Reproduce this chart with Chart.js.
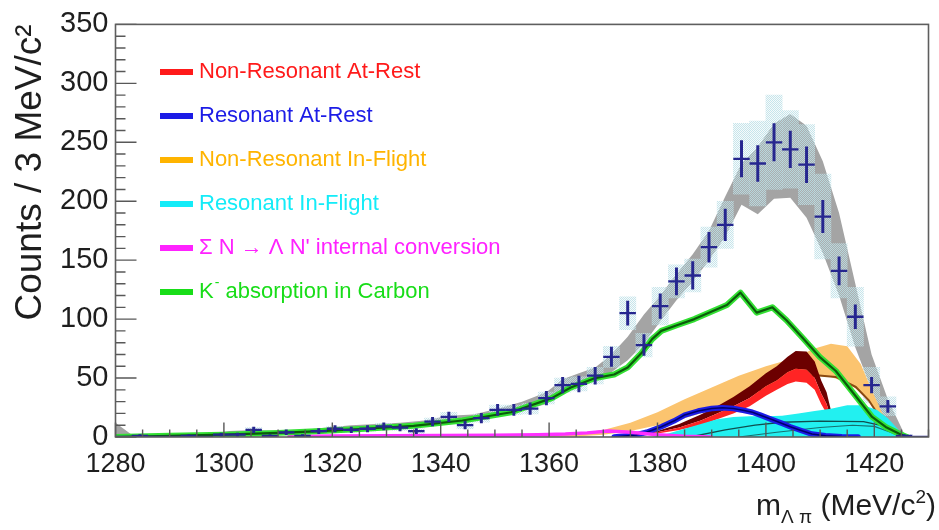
<!DOCTYPE html>
<html>
<head>
<meta charset="utf-8">
<script src="https://cdn.jsdelivr.net/npm/chart.js@4.4.1/dist/chart.umd.min.js"></script>
<style>
html,body{margin:0;padding:0;background:#ffffff;}
#wrap{width:939px;height:530px;position:relative;}
</style>
</head>
<body>
<div id="wrap"><canvas id="c" width="939" height="530"></canvas></div>
<script>
// ---------------- DATA ----------------
const xTicks = [1280,1300,1320,1340,1360,1380,1400,1420];
const yTicks = [0,50,100,150,200,250,300,350];

// data histogram (3 MeV bins)
const binCenters = [1281.5,1284.5,1287.5,1290.5,1293.5,1296.5,1299.5,1302.5,1305.5,1308.5,
  1311.5,1314.5,1317.5,1320.5,1323.5,1326.5,1329.5,1332.5,1335.5,1338.5,
  1341.5,1344.5,1347.5,1350.5,1353.5,1356.5,1359.5,1362.5,1365.5,1368.5,
  1371.5,1374.5,1377.5,1380.5,1383.5,1386.5,1389.5,1392.5,1395.5,1398.5,
  1401.5,1404.5,1407.5,1410.5,1413.5,1416.5,1419.5,1422.5,1425.5,1428.5];
const counts = [0,1,0,0,1,0,2,2,6,1,
  4,1,5,7,6,7,9,8,5,13,
  17,10,16,23,23,24,33,44,45,52,
  68,105,78,111,132,137,161,180,236,232,
  250,244,231,187,141,102,44,26,1,0];
const countErr = [0,1,0,0,1,0,1.4,1.4,2.4,1,
  2,1,2.2,2.6,2.4,2.6,3,2.8,2.2,3.6,
  4.1,3.2,4,4.8,4.8,4.9,5.7,6.6,6.7,7.2,
  8.2,10.2,8.8,10.5,11.5,11.7,12.7,13.4,15.4,15.2,
  15.8,15.6,15.2,13.7,11.9,10.1,6.6,5.1,1,0];
const sysErr = [0,0.5,0,0,0.5,0,1,1,2,0.5,
  1.5,0.5,1.5,2,2,2,2.5,2.5,2,3,
  4,3,3.5,4,4,4.5,5,6,6,7,
  9,14,10,16,14,14,17,20,30,36,
  40,33,34,36,23,25,15,8,1,0];

// total fit band (grey)
const totalX = [1280,1283,1287.5,1292,1296.5,1301,1305.5,1310,1314.5,1319,
  1323.5,1328,1332.5,1337,1341.5,1346,1350.5,1355,1359.5,1362.5,
  1365.5,1368.5,1371.5,1374.5,1377.5,1380.5,1383.5,1386.5,1389.5,1392.5,
  1395.5,1398.5,1401.5,1404.5,1407.5,1410.5,1413.5,1416.5,1419.5,1422.5,
  1425.5,1427];
const totalLow = [0,0,0,0,0,2,3,2,3,5,
  6,7,7,10,13,14,18,22,28,37,
  42,48,55,65,79,98,116,132,150,170,
  197,189,202,203,186,156,120,76,40,8,
  0,0];
const totalHigh = [12,2,1,1,2,5,6,5,6,8,
  10,11,12,14,18,19,24,30,38,49,
  54,59,70,85,104,120,138,155,175,204,
  232,246,266,274,264,234,190,130,70,32,
  3,0];

// K- absorption in Carbon (green)
const carbonX = [1280,1290,1300,1310,1318,1326,1335,1344,1353,1360.5,
  1364,1368.5,1372,1374.5,1377,1379,1380.7,1383.7,1386.8,1389.8,
  1392.8,1395.3,1398.3,1401.2,1403.8,1406.8,1409.9,1412.9,1414.8,1417.2,
  1419.6,1422.1,1424.5,1426];
const carbonY = [0,1,2,3.5,5,7,9.5,14,21,33,
  42,50,53,59,71,83,90,95,100,106,
  112,122.5,105.5,110,99,84,68,56,45,31,
  17,8.5,3,0];

// Non-Resonant In-Flight (orange band + central line)
const orangeX = [1358,1365,1370,1375,1380,1385,1390,1395,1400,1404.5,
  1409,1412,1415,1417.5,1419.5,1421.5,1424,1425.5];
const orangeLow = [0,0.5,2,5,10,16,23,31,39,48,52,51,46,38,28,15,3,0];
const orangeHigh = [0,3,6,12,21,32,42,52,60,66,75,79,77,62,40,20,5,0];
const orangeCoreX = [1399,1401,1404.4,1409.3,1412.9,1416.6,1419,1421,1423.5,1425];
const orangeCoreY = [39,42,48,52.3,51,42.4,31,17,4,0];

// Non-Resonant At-Rest (red / dark red band)
const redX = [1372,1376,1380,1384,1388,1391,1394,1397,1400,1402,
  1404,1405.5,1407.5,1409,1410.2,1411.2,1412.3,1413.5,1415];
const redLow = [0,1,3,6,10,15,20,26,35,40,45,47,46,40,28,20,7,0.5,0];
const redMid = [0,1.5,4,8,14,20,26,33,43,48,55,58,57,50,37,28,12,1,0];
const redHigh = [0,2,5,11,19,26,34,43,54,60,68,73,72.5,64,48,38,17,2,0];

// Resonant At-Rest (blue)
const blueX = [1372,1376,1378,1380.7,1383,1385,1387.5,1390,1392,1394,
  1396,1397.5,1399,1401,1403,1404.5,1406.5,1408.5,1411,1414,1417];
const blueY = [0,1.7,4,8.7,13.5,18.6,22,24.2,24.8,24.2,
  22.5,21,18.5,15,11.5,8.7,5.5,2.5,1,0.3,0];

// Resonant In-Flight (cyan)
const cyanX = [1379,1382,1385,1388,1391,1394,1397,1400,1403,1406,1409,1412,1415,1418,1420.5,1422.5,1424.5,1426];
const cyanHigh = [0,3,7,11,15,17,17.5,17.5,18,20,22,24,27,27,23,16,6,0];
const cyanLineAX = [1386,1392.5,1398,1403,1410,1418,1421,1424,1426];
const cyanLineAY = [0,6,10,12.5,13.5,13,10,3,0];
const cyanLineBX = [1395,1402,1410,1416,1420,1423,1425];
const cyanLineBY = [0,4,8,10,9,4,0];

// Sigma N -> Lambda N' internal conversion (magenta)
const sigmaX = [1312,1320,1330,1340,1350,1358,1363,1367,1371,1375,1380,1385,1390];
const sigmaY = [0.5,0.8,1,1.2,1.5,2,2.5,3.5,5,4,2,0.7,0];

// legend
const legendLabels = ['Non-Resonant At-Rest','Resonant At-Rest','Non-Resonant In-Flight',
  'Resonant In-Flight','\u03A3 N \u2192 \u039B N\' internal conversion','K\u207B absorption in Carbon'];
const legendColors = ['#ff1a1a','#1c1ce6','#ffb400','#14ecf8','#ff22ff','#18dd18'];

const yTitle = 'Counts / 3 MeV/c\u00B2';

// ---------------- CHART ----------------
const FONT = "'Liberation Sans', Arial, Helvetica, sans-serif";
const pts = (xs, ys) => xs.map((x, i) => ({x: x, y: ys[i]}));
const lineDs = (data, color, width, order, extra) => Object.assign({
  type: 'line', data: data, borderColor: color, borderWidth: width, pointRadius: 0,
  fill: false, tension: 0, order: order, borderJoinStyle: 'round', borderCapStyle: 'round'
}, extra || {});
const bandLow = (data, order) => ({type:'line', data:data, borderWidth:0, borderColor:'rgba(0,0,0,0)', pointRadius:0, fill:false, tension:0, order:order});
const bandHigh = (data, color, order) => ({type:'line', data:data, borderWidth:0, borderColor:'rgba(0,0,0,0)', pointRadius:0, fill:'-1', backgroundColor:color, tension:0, order:order});

// speckled fill for the systematic boxes
function specklePattern() {
  const c = document.createElement('canvas');
  c.width = 4; c.height = 4;
  const g = c.getContext('2d');
  g.fillStyle = 'rgba(205,228,234,0.18)';
  g.fillRect(0, 0, 4, 4);
  g.fillStyle = 'rgba(188,224,232,0.82)';
  [[0,0],[2,0],[1,1],[3,1],[0,2],[2,2],[1,3],[3,3]].forEach(p => g.fillRect(p[0], p[1], 1, 1));
  return g.createPattern(c, 'repeat');
}

const datasets = [
  bandLow(pts(totalX, totalLow), 100),
  bandHigh(pts(totalX, totalHigh), '#a4a4a4', 100),
  {type:'bar', data: binCenters.map((x,i)=>({x:x, y:[counts[i]-sysErr[i], counts[i]+sysErr[i]]})),
    backgroundColor: specklePattern(), barPercentage:1, categoryPercentage:1, grouped:false, order:95},
  bandLow(pts(orangeX, orangeLow), 70),
  bandHigh(pts(orangeX, orangeHigh), '#fbc46f', 70),
  lineDs(pts(orangeCoreX, orangeCoreY), '#8a4a12', 2, 66),
  bandLow(pts(redX, redLow), 60),
  bandHigh(pts(redX, redMid), '#ff2424', 60),
  bandHigh(pts(redX, redHigh), '#6c0000', 60),
  {type:'line', data: pts(cyanX, cyanHigh), borderWidth:0, borderColor:'rgba(0,0,0,0)', pointRadius:0,
    fill:'origin', backgroundColor:'#22f0f0', tension:0, order:55},
  lineDs(pts(cyanLineAX, cyanLineAY), '#0f4f4f', 1.3, 54),
  lineDs(pts(cyanLineBX, cyanLineBY), '#167070', 1.1, 54),
  lineDs(pts(blueX, blueY), '#1c1ce6', 5.5, 50),
  lineDs(pts(blueX, blueY), '#00006e', 1.6, 49),
  lineDs(pts(sigmaX, sigmaY), '#ff30ff', 3.5, 45),
  lineDs(pts(carbonX, carbonY), '#33e033', 6, 40),
  lineDs(pts(carbonX, carbonY), '#0b5a0b', 2.2, 39),
  {type:'bar', data: binCenters.map((x,i)=>({x:x, y:[counts[i]-countErr[i], counts[i]+countErr[i]]})),
    backgroundColor:'#26268f', barThickness:2.3, grouped:false, order:6},
  {type:'line', data: pts(binCenters, counts), showLine:false, pointStyle:'line', pointRadius:8.2,
    pointBorderWidth:2.3, pointBorderColor:'#26268f', pointBackgroundColor:'#26268f', order:5}
];

function drawRich(ctx, parts, xRight, baseY, color) {
  ctx.fillStyle = color;
  ctx.textBaseline = 'alphabetic';
  ctx.textAlign = 'left';
  let total = 0;
  parts.forEach(p => { ctx.font = p[1] + 'px ' + FONT; total += ctx.measureText(p[0]).width; });
  let x = xRight - total;
  parts.forEach(p => { ctx.font = p[1] + 'px ' + FONT; ctx.fillText(p[0], x, baseY + p[2]); x += ctx.measureText(p[0]).width; });
}

const decor = {
  id: 'rootDecor',
  afterDraw(chart) {
    const {ctx, chartArea: a, scales: {x, y}} = chart;
    ctx.save();
    // inward ticks
    ctx.strokeStyle = '#585858';
    ctx.lineWidth = 1.4;
    ctx.beginPath();
    for (let v = x.min; v <= x.max + 1e-6; v += 5) {
      const px = x.getPixelForValue(v);
      const len = (Math.round(v) % 20 === 0) ? 14.5 : 7.5;
      ctx.moveTo(px, a.bottom); ctx.lineTo(px, a.bottom - len);
    }
    for (let v = y.min; v <= y.max + 1e-6; v += 10) {
      const py = y.getPixelForValue(v);
      const len = (Math.round(v) % 50 === 0) ? 21 : 10;
      ctx.moveTo(a.left, py); ctx.lineTo(a.left + len, py);
    }
    ctx.stroke();
    // frame
    ctx.lineWidth = 1.6;
    ctx.strokeStyle = '#5e5e5e';
    ctx.strokeRect(a.left, a.top, a.right - a.left, a.bottom - a.top);

    // x-axis title with sub/superscripts
    drawRich(ctx, [['m',30,0],['\u039B \u03C0',19,8],[' (MeV/c',30,0],['2',19,-12],[')',30,0]], 936, 515, '#1e1e1e');

    // legend
    const lx0 = 160, lx1 = 193, tx = 199;
    legendLabels.forEach((lab, i) => {
      const ly = 72 + i * 44;
      ctx.strokeStyle = legendColors[i];
      ctx.lineWidth = 6;
      ctx.beginPath(); ctx.moveTo(lx0, ly); ctx.lineTo(lx1, ly); ctx.stroke();
      ctx.fillStyle = legendColors[i];
      ctx.textBaseline = 'middle';
      ctx.textAlign = 'left';
      let xx = tx;
      const segs = lab.split('\u207B');
      segs.forEach((s, k) => {
        ctx.font = '22px ' + FONT;
        ctx.fillText(s, xx, ly);
        xx += ctx.measureText(s).width;
        if (k < segs.length - 1) {
          ctx.font = '14px ' + FONT;
          ctx.fillText('-', xx + 1, ly - 9);
          xx += ctx.measureText('-').width + 1;
        }
      });
    });
    ctx.restore();
  }
};

new Chart(document.getElementById('c'), {
  type: 'line',
  data: { datasets: datasets },
  options: {
    responsive: false,
    maintainAspectRatio: false,
    devicePixelRatio: 1,
    animation: false,
    events: [],
    layout: { padding: { left: 0, right: 2, top: 22, bottom: 0 } },
    plugins: { legend: { display: false }, tooltip: { enabled: false } },
    scales: {
      x: {
        type: 'linear', min: 1280, max: 1430, offset: false,
        grid: { display: false, drawTicks: false },
        border: { display: false },
        afterBuildTicks: s => { s.ticks = xTicks.map(v => ({value: v})); },
        afterFit: s => { s.height = 93; },
        ticks: { autoSkip: false, maxRotation: 0, minRotation: 0, padding: 11, color: '#1e1e1e',
          font: { family: FONT, size: 27 }, callback: v => String(v) }
      },
      y: {
        type: 'linear', min: 0, max: 350,
        grid: { display: false, drawTicks: false },
        border: { display: false },
        afterBuildTicks: s => { s.ticks = yTicks.map(v => ({value: v})); },
        afterFit: s => { s.width = 115.5; },
        ticks: { padding: 7, color: '#1e1e1e', font: { family: FONT, size: 29 }, callback: v => String(v) },
        title: { display: true, text: yTitle, align: 'end', color: '#1e1e1e',
          font: { family: FONT, size: 37 }, padding: { top: 9, bottom: 0 } }
      }
    }
  },
  plugins: [decor]
});
</script>
</body>
</html>
